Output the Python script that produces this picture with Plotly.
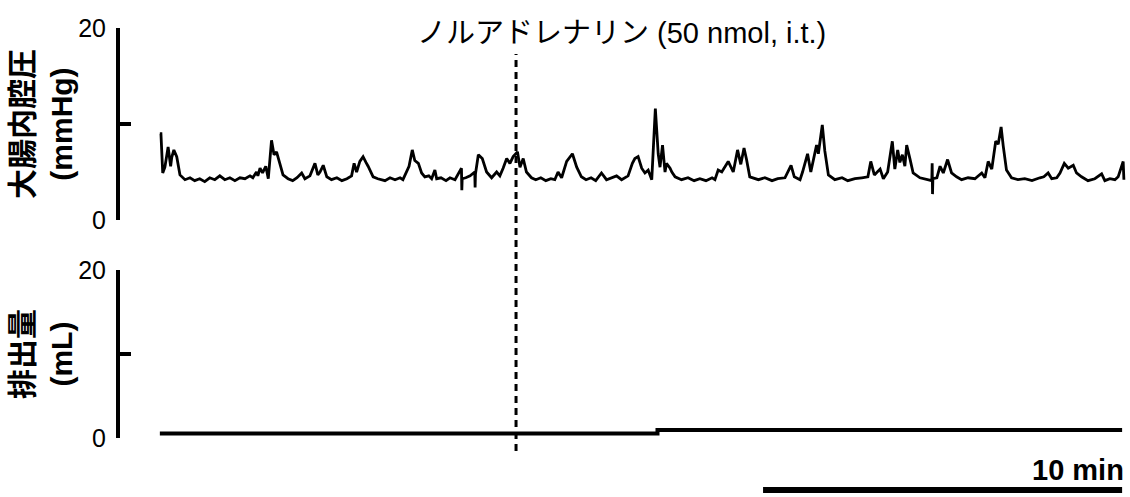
import plotly.graph_objects as go

# Colonic luminal pressure trace (time in min, pressure in mmHg)
time_min = [
    0.00, 0.03, 0.08, 0.14, 0.23, 0.30, 0.33, 0.39, 0.47, 0.50, 0.56, 0.70,
    0.84, 0.97, 1.11, 1.25, 1.39, 1.53, 1.67, 1.81, 1.95, 2.09, 2.23, 2.37, 2.51, 2.59,
    2.69, 2.73, 2.79, 2.86, 2.95, 3.02, 3.11, 3.18, 3.25, 3.34, 3.43, 3.57, 3.70, 3.82,
    3.95, 4.04, 4.18, 4.32, 4.40, 4.46, 4.55, 4.65, 4.78, 4.93, 5.07, 5.21, 5.34, 5.41,
    5.48, 5.57, 5.66, 5.74, 5.80, 5.94, 6.07, 6.27, 6.41, 6.55, 6.69, 6.77, 6.87, 6.94,
    7.03, 7.10, 7.20, 7.29, 7.38, 7.49, 7.57, 7.66, 7.71, 7.83, 7.97, 8.08, 8.22,
    8.40, 8.41, 8.42, 8.52, 8.64, 8.77, 8.78, 8.79, 8.87, 8.98, 9.10, 9.24, 9.38, 9.47,
    9.56, 9.66, 9.75, 9.84, 9.96, 10.03, 10.12, 10.21, 10.35, 10.47, 10.61, 10.75, 10.89,
    11.00, 11.09, 11.19, 11.33, 11.49, 11.61, 11.74, 11.87, 12.01, 12.14, 12.30, 12.44,
    12.56, 12.72, 12.86, 13.04, 13.16, 13.23, 13.32, 13.42, 13.51, 13.60, 13.70, 13.74,
    13.80, 13.88, 13.93, 14.00, 14.07, 14.11, 14.21, 14.26, 14.35, 14.53, 14.71, 14.88,
    15.04, 15.21, 15.38, 15.46, 15.55, 15.65, 15.73, 15.83, 15.97, 16.09, 16.18, 16.27,
    16.34, 16.43, 16.67, 16.85, 17.05, 17.21, 17.41, 17.58, 17.67, 17.83, 17.90, 18.04,
    18.13, 18.22, 18.29, 18.34, 18.45, 18.52, 18.62, 18.80, 19.00, 19.16, 19.36, 19.55,
    19.72, 19.80, 19.90, 20.06, 20.15, 20.27, 20.40, 20.47, 20.55, 20.61, 20.68, 20.75,
    20.80, 20.89, 20.98, 21.17, 21.35, 21.50, 21.51, 21.52, 21.53, 21.64, 21.73, 21.82,
    21.94, 22.05, 22.19, 22.33, 22.51, 22.70, 22.89, 22.98, 23.07, 23.17, 23.28, 23.35,
    23.43, 23.49, 23.58, 23.72, 23.90, 24.09, 24.29, 24.51, 24.62, 24.74, 24.84, 24.98,
    25.07, 25.19, 25.30, 25.44, 25.53, 25.67, 25.85, 26.04, 26.23, 26.32, 26.46, 26.60,
    26.69, 26.83, 26.85,
]
pressure_mmhg = [
    9.0, 9.0, 4.9, 5.5, 7.6, 5.6, 6.5, 7.3, 6.6, 5.8, 4.7, 4.2,
    4.4, 4.1, 4.3, 4.0, 4.4, 4.2, 4.6, 4.2, 4.4, 4.1, 4.4, 4.3, 4.6, 4.4,
    5.0, 4.6, 5.4, 4.9, 5.6, 4.3, 8.3, 6.8, 7.1, 5.9, 4.7, 4.3, 4.1, 4.4,
    4.9, 4.3, 4.6, 5.9, 4.7, 5.0, 5.7, 4.5, 4.2, 4.4, 4.1, 4.3, 4.6, 5.9,
    5.0, 6.1, 6.6, 6.0, 5.6, 4.5, 4.3, 4.1, 4.4, 4.2, 4.4, 4.2, 5.0, 5.6,
    7.3, 6.2, 5.9, 4.9, 4.5, 4.6, 4.3, 5.2, 4.3, 4.4, 4.1, 4.4, 4.2,
    5.4, 3.1, 4.3, 4.4, 4.6, 5.0, 3.4, 4.8, 6.8, 6.4, 5.0, 4.4, 5.0, 4.6,
    5.4, 6.4, 5.9, 6.6, 7.1, 5.5, 6.4, 5.0, 4.4, 4.2, 4.4, 4.1, 4.3,
    4.2, 5.0, 4.4, 6.1, 6.9, 5.5, 4.5, 4.2, 4.4, 4.1, 4.9, 4.2,
    4.4, 4.6, 4.2, 4.6, 5.9, 6.4, 6.6, 5.4, 4.9, 5.2, 4.2, 6.9,
    11.6, 6.9, 5.5, 7.8, 5.0, 5.9, 5.4, 5.0, 4.5, 4.2, 4.4, 4.1,
    4.3, 4.1, 4.4, 4.2, 5.2, 5.0, 5.5, 6.1, 5.0, 7.3, 5.8, 7.5,
    6.3, 4.5, 4.2, 4.4, 4.1, 4.3, 4.4, 5.7, 4.5, 4.2, 5.0, 6.9,
    5.0, 6.7, 7.8, 6.9, 9.9, 7.2, 4.7, 4.2, 4.4, 4.1, 4.3, 4.4,
    4.5, 6.1, 4.7, 5.3, 4.3, 5.0, 8.2, 5.3, 7.3, 6.0, 6.8, 5.6,
    7.8, 6.4, 4.9, 4.4, 4.2, 4.1, 5.9, 2.7, 4.3, 4.4, 5.6, 4.9,
    6.3, 4.9, 4.5, 4.2, 4.4, 4.3, 4.9, 4.4, 6.1, 5.3, 8.2, 7.9,
    9.7, 7.7, 5.2, 4.4, 4.2, 4.3, 4.1, 4.4, 4.5, 4.9, 4.3, 4.4,
    4.9, 5.9, 5.4, 5.7, 4.9, 4.5, 4.1, 4.3, 4.8, 4.1, 4.3, 4.2,
    4.5, 6.1, 4.2,
]

# Cumulative defecation volume (mL), stepwise
volume_time_min = [0.00, 13.86, 26.80]
volume_ml = [0.55, 0.95, 0.95]

# Noradrenaline injection time (min) and scale bar length (min)
noradrenaline_time = 9.92
scale_bar_min = 10
record_end_min = 26.80

y_ticks = [0, 10, 20]
y_tick_text = ["0", "", "20"]

latin = "Liberation Sans, Arial, Helvetica, sans-serif"
mixed = "Liberation Sans, Noto Sans CJK JP, sans-serif"

fig = go.Figure()
fig.add_trace(go.Scatter(
    x=time_min, y=pressure_mmhg, mode="lines",
    line=dict(color="black", width=2.8), xaxis="x", yaxis="y",
    hoverinfo="skip", showlegend=False,
))
fig.add_trace(go.Scatter(
    x=volume_time_min, y=volume_ml, mode="lines",
    line=dict(color="black", width=4, shape="hv"), xaxis="x2", yaxis="y2",
    hoverinfo="skip", showlegend=False,
))

x_range = [-1.11, 27.02]
x_common = dict(range=x_range, domain=[0.1062, 1.0], visible=False,
                showgrid=False, zeroline=False, fixedrange=True, automargin=False)
y_common = dict(
    range=[0, 20], tickvals=y_ticks, ticktext=y_tick_text,
    showline=True, linecolor="black", linewidth=4,
    ticks="inside", ticklen=11, tickwidth=4, tickcolor="black",
    showgrid=False, zeroline=False, ticklabelstandoff=5, automargin=False,
    tickfont=dict(family=latin, size=25, color="black"), fixedrange=True,
)

fig.update_layout(
    width=1130, height=497,
    margin=dict(l=0, r=0, t=0, b=0, pad=0, autoexpand=False),
    paper_bgcolor="white", plot_bgcolor="white",
    xaxis=dict(**x_common, anchor="y"),
    xaxis2=dict(**x_common, anchor="y2"),
    yaxis=dict(**y_common, domain=[0.5573, 0.9437], anchor="x"),
    yaxis2=dict(**y_common, domain=[0.1187, 0.4567], anchor="x2"),
)

# Injection marker spanning both panels
fig.add_shape(type="line", xref="x", yref="paper",
              x0=noradrenaline_time, x1=noradrenaline_time, y0=0.0926, y1=0.8913,
              line=dict(color="black", width=3, dash="7px,5px"))

# Time scale bar
fig.add_shape(type="line", xref="x2", yref="paper",
              x0=record_end_min - scale_bar_min, x1=record_end_min,
              y0=0.0141, y1=0.0141, line=dict(color="black", width=6))

fig.add_annotation(text="<b>10 min</b>", xref="x2", yref="paper",
                   x=record_end_min + 0.1, y=0.0543, xanchor="right", yanchor="middle",
                   showarrow=False, font=dict(family=latin, size=29, color="black"))

fig.add_annotation(text="ノルアドレナリン (50 nmol, i.t.)", xref="paper", yref="paper",
                   x=0.5504, y=0.9336, xanchor="center", yanchor="middle",
                   showarrow=False, font=dict(family=mixed, size=29, color="black"))

fig.add_annotation(text="<b>大腸内腔圧</b><br><b>(mmHg)</b>", xref="paper", yref="paper",
                   x=0.0372, y=0.7505, xanchor="center", yanchor="middle",
                   textangle=-90, showarrow=False,
                   font=dict(family=mixed, size=30, color="black"))

fig.add_annotation(text="<b>排出量</b><br><b>(mL)</b>", xref="paper", yref="paper",
                   x=0.0372, y=0.2877, xanchor="center", yanchor="middle",
                   textangle=-90, showarrow=False,
                   font=dict(family=mixed, size=30, color="black"))

fig.write_html("out.html", config={"displayModeBar": False})
